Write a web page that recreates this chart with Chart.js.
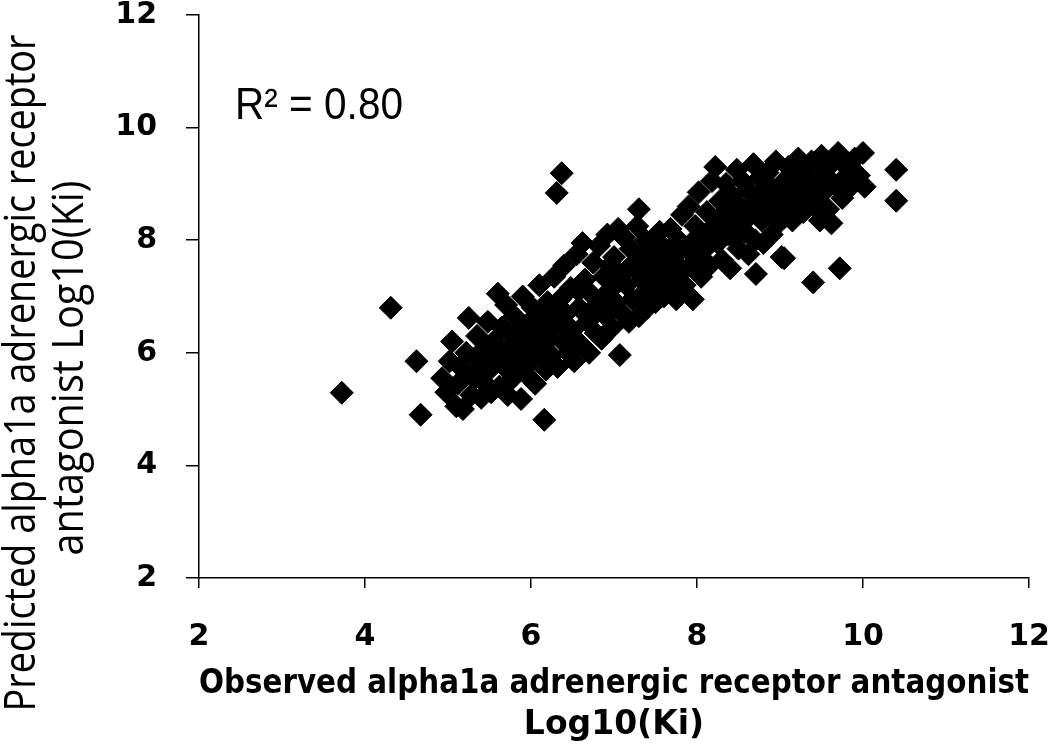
<!DOCTYPE html>
<html><head><meta charset="utf-8">
<script src="https://cdn.jsdelivr.net/npm/chart.js@4.4.1/dist/chart.umd.min.js"></script>
<style>html,body{margin:0;padding:0;background:#fff;}#wrap{width:1050px;height:748px;}</style>
</head><body><div id="wrap"><canvas id="c" width="1050" height="748"></canvas></div>
<script>
// Observed log10(Ki) values (x)
const observedLogKi = [
4.93,4.98,5.02,5.05,5.10,5.12,5.18,5.20,5.22,5.25,5.28,
5.32,5.35,5.38,5.40,5.42,5.45,5.48,5.50,5.52,5.55,5.58,
5.60,5.62,5.65,5.68,5.70,5.72,5.75,5.78,5.80,5.82,
5.85,5.88,5.90,5.92,5.95,5.97,6.00,6.02,6.05,6.05,
6.10,6.12,6.15,6.18,6.20,6.22,6.25,6.28,6.30,6.32,
6.35,6.38,6.40,6.42,6.45,6.48,6.50,6.52,6.55,6.58,
6.60,6.62,6.65,6.68,6.70,6.72,6.75,6.78,6.80,6.82,
6.85,6.88,6.90,6.92,6.95,6.98,7.00,7.02,7.05,7.08,
7.10,7.12,7.15,7.18,7.20,7.22,7.25,7.28,7.30,7.32,
7.35,7.38,7.40,7.42,7.45,7.48,7.50,7.52,7.55,7.58,
7.60,7.62,7.65,7.68,7.70,7.72,7.75,7.78,7.80,7.82,
7.85,7.88,7.90,7.92,7.95,7.98,8.00,8.02,8.05,8.08,
8.10,8.12,8.15,8.18,8.20,8.22,8.25,8.28,8.30,8.32,
8.35,8.38,8.40,8.42,8.45,8.48,8.50,8.52,8.55,8.58,
8.60,8.62,8.65,8.68,8.70,8.72,8.75,8.78,8.80,8.82,
8.85,8.88,8.90,8.92,8.95,8.98,9.00,9.02,9.05,9.08,
9.10,9.12,9.15,9.18,9.20,9.22,9.25,9.28,9.30,9.32,
9.38,9.40,9.42,9.45,9.48,9.50,9.52,9.55,9.58,9.60,
9.62,9.65,9.70,9.72,9.75,9.80,9.85,9.90,9.95,10.00,10.02,
5.15,5.35,5.57,5.65,5.77,5.93,6.08,6.20,6.27,6.43,6.57,6.73,
6.87,6.95,7.03,7.17,7.33,7.45,7.47,7.63,7.77,7.93,8.07,8.23,
8.37,8.45,8.53,8.67,8.83,8.97,9.05,9.13,9.27,9.43,9.57,9.77,
3.72,4.31,4.62,4.67,6.16,6.37,6.31,7.07,7.30,10.40,10.40,9.05,8.71
];
// Predicted log10(Ki) values (y)
const predictedLogKi = [
5.55,5.30,5.85,6.20,5.05,5.45,5.00,5.70,6.00,6.62,5.25,
5.55,6.30,5.85,5.20,6.05,5.45,6.55,5.70,5.30,6.20,5.95,
7.05,5.40,6.45,5.75,6.85,5.25,6.10,5.55,6.65,5.90,
6.30,5.18,7.00,5.65,6.50,6.05,5.85,6.80,6.30,5.45,
7.20,6.00,6.60,5.70,6.90,6.25,5.95,7.35,6.50,5.75,
6.95,6.20,7.55,6.70,6.00,7.15,6.40,5.85,7.75,6.80,
6.15,7.95,7.30,6.55,6.00,7.05,7.60,6.35,6.85,7.90,
6.25,7.35,6.65,8.10,7.10,6.45,7.70,6.90,8.20,7.40,
6.70,8.05,7.20,6.55,7.85,6.95,7.50,8.25,6.65,7.70,
7.05,8.00,6.80,7.45,7.90,7.15,6.90,7.65,8.15,7.30,
7.00,7.85,7.45,8.20,7.15,7.70,6.95,8.00,7.40,8.45,
7.20,7.85,8.60,7.55,6.95,8.25,7.70,8.85,7.35,8.10,
7.85,8.50,7.55,9.05,8.25,9.30,7.95,8.70,7.65,8.40,
9.00,8.10,7.50,8.80,8.35,9.25,7.85,8.60,9.05,8.15,
8.90,7.75,8.45,9.35,8.00,8.75,9.10,8.35,7.95,8.65,
9.20,8.50,8.10,8.90,9.40,8.30,8.75,7.70,9.05,8.55,
9.30,8.85,8.35,9.10,8.65,9.45,8.95,8.50,9.20,8.80,
9.40,7.25,8.60,9.05,8.35,9.50,8.85,9.25,8.55,9.35,
8.30,9.00,9.55,7.50,8.75,9.30,8.95,9.45,9.15,9.55,8.95,
5.75,5.65,6.05,5.95,6.30,6.20,6.55,6.40,6.70,6.45,7.10,6.75,
7.00,7.55,7.25,7.50,7.30,7.25,7.60,7.65,7.55,7.95,8.00,8.20,
8.55,8.05,8.35,8.60,8.85,8.60,8.40,8.95,9.00,8.85,9.05,9.10,
5.29,6.80,5.85,4.90,4.81,9.19,8.84,5.96,8.55,9.25,8.70,7.68,7.40
];
const xTickValues = [2, 4, 6, 8, 10, 12];
const yTickValues = [2, 4, 6, 8, 10, 12];
const xTitleLines = ['Observed alpha1a adrenergic receptor antagonist', 'Log10(Ki)'];
const yTitleLines = ['Predicted alpha1a adrenergic receptor', 'antagonist Log10(Ki)'];
const r2Text = 'R\u00B2 = 0.80';

const points = observedLogKi.map((x, i) => ({ x: x, y: predictedLogKi[i] }));

const yTitlePlugin = {
  id: 'yTitleDraw',
  afterDraw(chart) {
    const ctx = chart.ctx;
    ctx.save();
    ctx.fillStyle = '#000';
    ctx.font = '44px "Open Sans", "DejaVu Sans", sans-serif';
    ctx.textAlign = 'center';
    ctx.textBaseline = 'alphabetic';
    const spec = [[yTitleLines[0], 35, 373, 677], [yTitleLines[1], 83, 368, 375]];
    spec.forEach(([t, x, y, w]) => {
      ctx.save();
      ctx.translate(x, y);
      ctx.rotate(-Math.PI / 2);
      ctx.fillText(t, 0, 0, w);
      ctx.restore();
    });
    ctx.font = '44px "Liberation Sans", Arial, sans-serif';
    ctx.textAlign = 'left';
    ctx.fillText(r2Text, 235, 119, 168);
    ctx.restore();
  }
};

const tickFont = { family: '"DejaVu Sans", Verdana, sans-serif', weight: 'bold', size: 30, lineHeight: 1 };

new Chart(document.getElementById('c'), {
  type: 'scatter',
  data: {
    datasets: [{
      data: points,
      pointStyle: 'rectRot',
      pointRadius: 11.5,
      pointHoverRadius: 11.5,
      backgroundColor: '#000',
      borderColor: '#000',
      borderWidth: 1
    }]
  },
  options: {
    responsive: false,
    animation: false,
    devicePixelRatio: 1,
    layout: { padding: 0 },
    plugins: { legend: { display: false }, tooltip: { enabled: false } },
    scales: {
      x: {
        type: 'linear', position: 'bottom', min: 2, max: 12,
        afterBuildTicks: s => { s.ticks = xTickValues.map(v => ({ value: v })); },
        ticks: { font: tickFont, color: '#000', padding: 34, maxRotation: 0 },
        grid: { drawOnChartArea: false, drawTicks: true, tickLength: 10, color: '#000', lineWidth: 1.5 },
        border: { display: true, color: '#000', width: 1.5 },
        title: {
          display: true, text: xTitleLines, color: '#000',
          font: { family: '"DejaVu Sans", Verdana, sans-serif', weight: 'bold', size: 33, lineHeight: 1.25 },
          padding: { top: 0, bottom: 2 }
        },
        afterFit: s => { s.height = 170; s.paddingLeft = 21; s.paddingRight = 21; }
      },
      y: {
        type: 'linear', position: 'left', min: 2, max: 12,
        afterBuildTicks: s => { s.ticks = yTickValues.map(v => ({ value: v })); },
        ticks: { font: tickFont, color: '#000', padding: 29 },
        grid: { drawOnChartArea: false, drawTicks: true, tickLength: 13, color: '#000', lineWidth: 1.5 },
        border: { display: true, color: '#000', width: 1.5 },
        title: { display: false },
        afterFit: s => { s.width = 199; s.paddingTop = 15; s.paddingBottom = 15; }
      }
    }
  },
  plugins: [yTitlePlugin]
});
</script>
</body></html>
